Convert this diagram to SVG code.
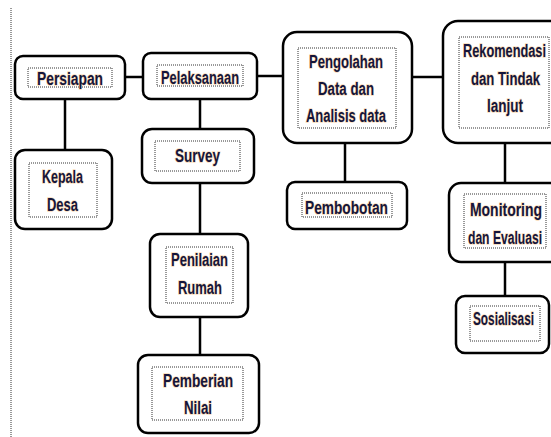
<svg xmlns="http://www.w3.org/2000/svg" width="551" height="437" viewBox="0 0 551 437">
<style>
.box{fill:#fff;stroke:#000;stroke-width:2.5}
.inner{fill:none;stroke:#333;stroke-width:1;stroke-dasharray:1 1}
.conn{stroke:#000;stroke-width:2.5;fill:none}
text{font-family:"Liberation Sans",Arial,sans-serif;font-weight:bold;font-size:18px;fill:#15153a;stroke:#f2b46a;stroke-width:1.4;stroke-opacity:0.5;paint-order:stroke;text-anchor:middle}
</style>
<rect width="551" height="437" fill="#fff"/>
<line x1="11" y1="8" x2="11" y2="437" stroke="#333" stroke-width="1" stroke-dasharray="1 1"/>
<g id="connectors">
<line class="conn" x1="125" y1="77" x2="143" y2="77"/>
<line class="conn" x1="257" y1="76" x2="283" y2="76"/>
<line class="conn" x1="412" y1="77" x2="443" y2="77"/>
<line class="conn" x1="65" y1="99" x2="65" y2="150"/>
<line class="conn" x1="200" y1="99" x2="200" y2="129"/>
<line class="conn" x1="200" y1="183" x2="200" y2="234"/>
<line class="conn" x1="200" y1="317" x2="200" y2="355"/>
<line class="conn" x1="345" y1="143" x2="345" y2="182"/>
<line class="conn" x1="505" y1="143" x2="505" y2="183"/>
<line class="conn" x1="505" y1="262" x2="505" y2="296"/>
</g>
<g id="persiapan">
<rect class="box" x="15" y="56" width="110" height="43" rx="8"/>
<rect class="inner" x="28" y="68" width="84" height="19"/>
<text x="70" y="85" textLength="66" lengthAdjust="spacingAndGlyphs">Persiapan</text>
</g>
<g id="pelaksanaan">
<rect class="box" x="143" y="53" width="114" height="46" rx="8"/>
<rect class="inner" x="157" y="65" width="86" height="21"/>
<text x="200" y="84" textLength="78" lengthAdjust="spacingAndGlyphs">Pelaksanaan</text>
</g>
<g id="kepala-desa">
<rect class="box" x="15" y="150" width="97" height="79" rx="10"/>
<rect class="inner" x="29" y="163" width="68" height="54"/>
<text x="62.5" y="183" textLength="41" lengthAdjust="spacingAndGlyphs">Kepala</text>
<text x="62.5" y="211" textLength="31" lengthAdjust="spacingAndGlyphs">Desa</text>
</g>
<g id="survey">
<rect class="box" x="142" y="129" width="112" height="54" rx="10"/>
<rect class="inner" x="155" y="141" width="85" height="30"/>
<text x="197.5" y="162" textLength="45" lengthAdjust="spacingAndGlyphs">Survey</text>
</g>
<g id="penilaian-rumah">
<rect class="box" x="150" y="234" width="98" height="83" rx="10"/>
<rect class="inner" x="166" y="247" width="67" height="56"/>
<text x="199.5" y="266" textLength="57" lengthAdjust="spacingAndGlyphs">Penilaian</text>
<text x="200" y="294" textLength="44" lengthAdjust="spacingAndGlyphs">Rumah</text>
</g>
<g id="pemberian-nilai">
<rect class="box" x="138" y="355" width="121" height="78" rx="10"/>
<rect class="inner" x="152" y="367" width="91" height="53"/>
<text x="198" y="387" textLength="70" lengthAdjust="spacingAndGlyphs">Pemberian</text>
<text x="198" y="414" textLength="28" lengthAdjust="spacingAndGlyphs">Nilai</text>
</g>
<g id="pengolahan">
<rect class="box" x="283" y="32" width="129" height="111" rx="14"/>
<rect class="inner" x="298" y="48" width="98" height="80"/>
<text x="346" y="68" textLength="74" lengthAdjust="spacingAndGlyphs">Pengolahan</text>
<text x="346" y="95" textLength="56" lengthAdjust="spacingAndGlyphs">Data dan</text>
<text x="346" y="122" textLength="80" lengthAdjust="spacingAndGlyphs">Analisis data</text>
</g>
<g id="rekomendasi">
<rect class="box" x="443" y="21" width="125" height="122" rx="15"/>
<rect class="inner" x="459" y="37" width="90" height="91"/>
<text x="504.5" y="57" textLength="83" lengthAdjust="spacingAndGlyphs">Rekomendasi</text>
<text x="505.5" y="85" textLength="69" lengthAdjust="spacingAndGlyphs">dan Tindak</text>
<text x="505" y="112" textLength="36" lengthAdjust="spacingAndGlyphs">lanjut</text>
</g>
<g id="pembobotan">
<rect class="box" x="287" y="182" width="120" height="47" rx="8"/>
<rect class="inner" x="302" y="193" width="90" height="24"/>
<text x="346.5" y="214" textLength="83" lengthAdjust="spacingAndGlyphs">Pembobotan</text>
</g>
<g id="monitoring">
<rect class="box" x="449" y="183" width="115" height="79" rx="12"/>
<rect class="inner" x="464" y="194" width="82" height="54"/>
<text x="506" y="216" textLength="72" lengthAdjust="spacingAndGlyphs">Monitoring</text>
<text x="505" y="244" textLength="74" lengthAdjust="spacingAndGlyphs">dan Evaluasi</text>
</g>
<g id="sosialisasi">
<rect class="box" x="456" y="296" width="93" height="57" rx="9"/>
<rect class="inner" x="470" y="306" width="70" height="35"/>
<text x="503.5" y="325" textLength="61" lengthAdjust="spacingAndGlyphs">Sosialisasi</text>
</g>
</svg>
